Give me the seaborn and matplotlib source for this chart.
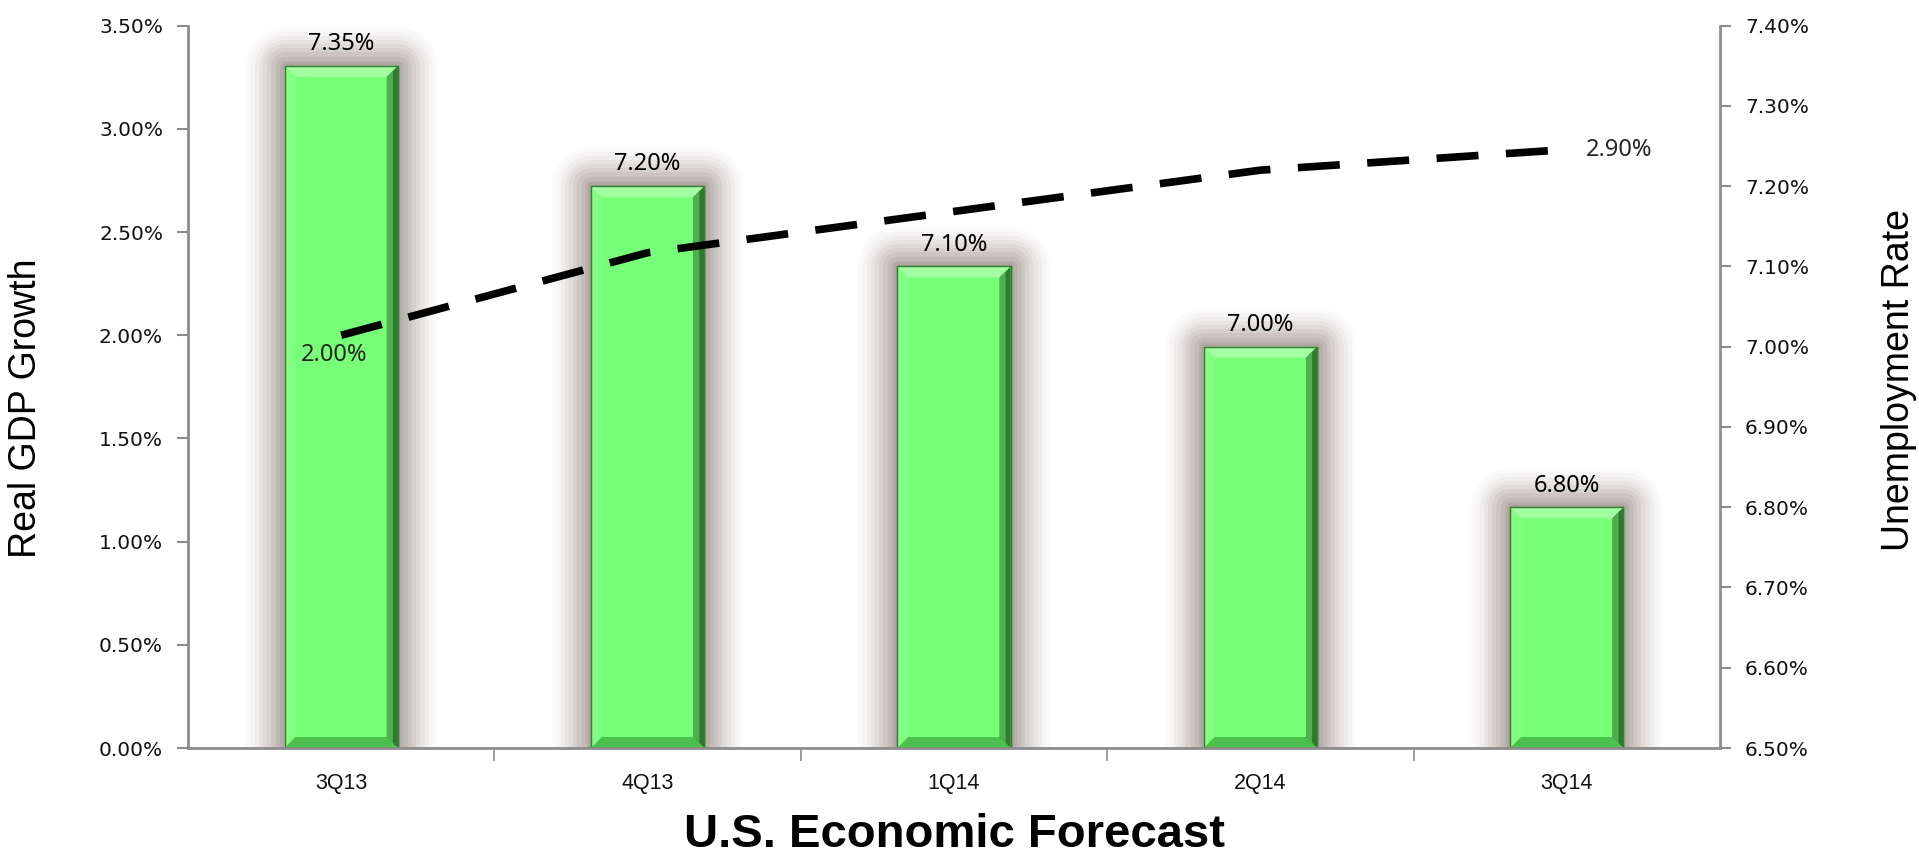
import matplotlib
matplotlib.use("Agg")
import matplotlib.pyplot as plt
import matplotlib.patheffects as pe
from matplotlib.patches import Polygon
from matplotlib.ticker import FuncFormatter, FixedLocator, NullFormatter
import seaborn as sns
import pandas as pd

# ---- data ----
quarters = ["3Q13", "4Q13", "1Q14", "2Q14", "3Q14"]
unemployment = [7.35, 7.20, 7.10, 7.00, 6.80]      # bars, right axis (%)
gdp_growth = [2.00, 2.40, 2.60, 2.80, 2.90]         # dashed line, left axis (%)
gdp_label_idx = [0, 4]
left_ticks = [0.0, 0.5, 1.0, 1.5, 2.0, 2.5, 3.0, 3.5]
right_ticks = [6.5, 6.6, 6.7, 6.8, 6.9, 7.0, 7.1, 7.2, 7.3, 7.4]

df = pd.DataFrame({"quarter": quarters, "unemp": unemployment, "gdp": gdp_growth})

sns.set_theme(style="white")
ARIAL = ["Liberation Sans", "DejaVu Sans"]
LABF = ["Noto Sans", "DejaVu Sans"]
plt.rcParams["font.family"] = ["DejaVu Sans"]

W, H = 1919, 855
fig = plt.figure(figsize=(W / 100, H / 100), dpi=100)
ax = fig.add_axes([188 / W, 1 - 748 / H, (1720 - 188) / W, (748 - 25.7) / H])
ax2 = ax.twinx()

# bars on right axis
sns.barplot(data=df, x="quarter", y="unemp", ax=ax2, width=0.37,
            color="#77FF77", saturation=1, edgecolor="#3f8f3f", linewidth=1)
ax2.set_ylim(6.5, 7.4)
ax.set_xlim(-0.5, len(quarters) - 0.5)

glow = "#a0938a"
effects = []
for lw, al in [(56, 0.04), (50, 0.05), (44, 0.07), (38, 0.09), (32, 0.11),
               (26, 0.14), (20, 0.17), (14, 0.21), (8, 0.26), (4, 0.3)]:
    effects.append(pe.Stroke(linewidth=lw, foreground=glow, alpha=al, joinstyle="round"))
effects.append(pe.Normal())
for p in ax2.patches:
    p.set_path_effects(effects)
    p.set_zorder(2)

# bevel effect (pixel sizes converted to data units)
fig.canvas.draw()
inv = ax2.transData.inverted()
def px2data(dx, dy):
    a = inv.transform((0, 0)); b = inv.transform((dx, dy))
    return b[0] - a[0], b[1] - a[1]
bx, by = px2data(11, 11)
for p in list(ax2.patches):
    x0, y0 = p.get_x(), p.get_y()
    x1, y1 = x0 + p.get_width(), y0 + p.get_height()
    y0 = max(y0, 6.5)
    top = [(x0, y1), (x1, y1), (x1 - bx, y1 - by), (x0 + bx, y1 - by)]
    right = [(x1, y1), (x1, y0), (x1 - bx, y0 + by), (x1 - bx, y1 - by)]
    right_in = [(x1 - bx * 0.45, y1 - by * 0.45), (x1 - bx * 0.45, y0 + by * 0.45),
                (x1 - bx, y0 + by), (x1 - bx, y1 - by)]
    bottom = [(x0, y0), (x1, y0), (x1 - bx, y0 + by), (x0 + bx, y0 + by)]
    left = [(x0, y0), (x0, y1), (x0 + bx, y1 - by), (x0 + bx, y0 + by)]
    for poly, c in [(left, "#82FF82"), (top, "#A2FFA2"), (bottom, "#4DBF4D"),
                    (right, "#2F7A2F"), (right_in, "#4FAE4F")]:
        ax2.add_patch(Polygon(poly, closed=True, facecolor=c, edgecolor="none", zorder=3))
    ax2.add_patch(Polygon([(x0, y0), (x1, y0), (x1, y1), (x0, y1)], closed=True,
                          facecolor="none", edgecolor="#3a7a3a", linewidth=1, zorder=4))

# bar labels
for i, v in enumerate(unemployment):
    ax2.annotate(f"{v:.2f}%", (i, v), xytext=(0, 7), textcoords="offset points",
                 ha="center", va="bottom", fontsize=17, family=LABF, color="black")

# dashed line on left axis
sns.lineplot(data=df, x="quarter", y="gdp", ax=ax, color="black", linewidth=5.5,
             sort=False)
ln = ax.lines[0]
ln.set_dashes([5.5, 3.6])
ln.set_dash_capstyle("butt")
ax.set_ylim(0, 3.5)
ax.set_zorder(ax2.get_zorder() + 1)
ax.patch.set_visible(False)

for i in gdp_label_idx:
    txt = f"{gdp_growth[i]:.2f}%"
    if i == 0:
        ax.annotate(txt, (i, gdp_growth[i]), xytext=(-5, -14.5), textcoords="offset points",
                    ha="center", va="center", fontsize=17, family=LABF)
    else:
        ax.annotate(txt, (i, gdp_growth[i]), xytext=(14, 0), textcoords="offset points",
                    ha="left", va="center", fontsize=17, family=LABF)

# axes styling
spine_c = "#8c8c8c"
for a in (ax, ax2):
    for s in a.spines.values():
        s.set_visible(False)
ax.spines["left"].set_visible(True)
ax.spines["bottom"].set_visible(True)
ax2.spines["right"].set_visible(True)
for s in (ax.spines["left"], ax.spines["bottom"], ax2.spines["right"]):
    s.set_color(spine_c); s.set_linewidth(2)

ax.set_yticks(left_ticks)
ax.yaxis.set_major_formatter(FuncFormatter(lambda v, p: f"{v:.2f}%"))
ax2.set_yticks(right_ticks)
ax2.yaxis.set_major_formatter(FuncFormatter(lambda v, p: f"{v:.2f}%"))
ax.tick_params(axis="y", which="both", left=True, length=8, width=1.5, color=spine_c,
               labelsize=14.5, pad=10, labelcolor="#111111")
ax2.tick_params(axis="y", right=True, length=8, width=1.5, color=spine_c,
                labelsize=14.5, pad=10, labelcolor="#111111")

# x ticks: labels at centers, tick marks at boundaries
ax.set_xticks(range(len(quarters)))
ax.set_xticklabels(quarters)
ax.tick_params(axis="x", which="major", bottom=False, length=0, pad=18, labelsize=15.5,
               labelcolor="#111111")
ax.xaxis.set_minor_locator(FixedLocator([i + 0.5 for i in range(len(quarters) - 1)]))
ax.xaxis.set_minor_formatter(NullFormatter())
ax.tick_params(axis="x", which="minor", bottom=True, length=9, width=1.2, color=spine_c)
for lab in ax.get_xticklabels():
    lab.set_family(ARIAL)

ax.set_xlabel("U.S. Economic Forecast", fontsize=34, fontweight="bold", family=ARIAL,
              labelpad=14, color="black")
ax.set_ylabel("Real GDP Growth", fontsize=27, family=ARIAL, color="black")
ax.yaxis.set_label_coords(-(188 - 44) / (1720 - 188), 0.47)
ax2.set_ylabel("Unemployment Rate", fontsize=27, family=ARIAL, rotation=90, color="black")
ax2.yaxis.set_label_coords(1 + (1881 - 1720) / (1720 - 188), 0.51)

fig.savefig("out.png", dpi=100, facecolor="white")
